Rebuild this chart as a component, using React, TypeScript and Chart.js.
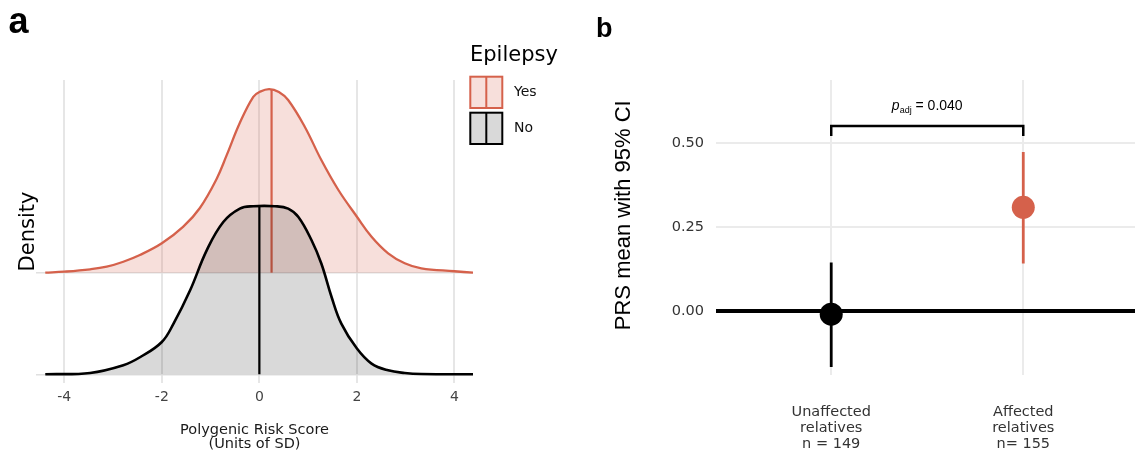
import React, { useEffect, useRef } from 'react';
import { Chart, registerables } from 'chart.js';

Chart.register(...registerables);

// ---------- Panel a: ridgeline densities ----------
const groups = ['Yes', 'No'];
const legendTitle = 'Epilepsy';
const groupColors = ['#D5614B', '#000000'];
const groupFills = ['rgba(213,97,75,0.2)', 'rgba(0,0,0,0.15)'];
const groupFillsOpaque = ['#F7DFDB', '#D9D9D9'];

const yesX = [-4.39, -4.0, -3.47, -3.13, -2.79, -2.45, -2.0, -1.56, -1.22, -0.875, -0.67, -0.4, -0.125, 0.01, 0.2, 0.4, 0.59, 0.93, 1.27, 1.62, 2.0, 2.3, 2.64, 2.98, 3.32, 4.0, 4.38];
const yesDensity = [0, 0.01, 0.033, 0.059, 0.108, 0.174, 0.289, 0.453, 0.637, 0.925, 1.157, 1.476, 1.732, 1.781, 1.808, 1.780, 1.70, 1.437, 1.109, 0.814, 0.551, 0.354, 0.191, 0.093, 0.043, 0.014, 0];
const noX = [-4.39, -3.47, -2.79, -2.44, -2.0, -1.76, -1.42, -1.08, -0.74, -0.4, -0.125, 0.32, 0.59, 0.8, 1.07, 1.27, 1.48, 1.68, 2.0, 2.3, 2.64, 2.98, 3.32, 4.38];
const noDensity = [0, 0.013, 0.089, 0.170, 0.318, 0.499, 0.827, 1.220, 1.499, 1.631, 1.654, 1.654, 1.631, 1.548, 1.319, 1.090, 0.761, 0.499, 0.253, 0.105, 0.039, 0.013, 0.003, 0];
const groupMedians = [0.25, 0];
const prsTicks = [-4, -2, 0, 2, 4];
const prsAxisTitle = ['Polygenic Risk Score', '(Units of SD)'];

// ---------- Panel b: PRS mean with 95% CI ----------
const relativeGroups = [
  ['Unaffected', 'relatives', 'n = 149'],
  ['Affected', 'relatives', 'n= 155'],
];
const prsMean = [-0.009, 0.309];
const ciLower = [-0.166, 0.142];
const ciUpper = [0.145, 0.474];
const relativeColors = ['#000000', '#D5614B'];
const meanTicks = [0, 0.25, 0.5];
const bracketY = 0.551;
const bracketTipY = 0.521;
const pAdjValue = '0.040';

const interp = (xs: number[], ys: number[], x: number) => {
  for (let i = 0; i < xs.length - 1; i++) {
    if (x >= xs[i] && x <= xs[i + 1]) {
      const t = (x - xs[i]) / (xs[i + 1] - xs[i]);
      return ys[i] + t * (ys[i + 1] - ys[i]);
    }
  }
  return 0;
};

Chart.defaults.font.family = '"DejaVu Sans"';

export default function App() {
  const refA = useRef<HTMLCanvasElement | null>(null);
  const refB = useRef<HTMLCanvasElement | null>(null);

  useEffect(() => {
    // ---- Chart A ----
    const offsets = [1, 0];
    const xsAll = [yesX, noX];
    const dsAll = [yesDensity, noDensity];
    const datasetsA: any[] = [];
    [1, 0].forEach((g, k) => {
      const base = offsets[g];
      const medTop = base + interp(xsAll[g], dsAll[g], groupMedians[g]);
      datasetsA.push({
        label: groups[g] + ' median',
        data: [{ x: groupMedians[g], y: base }, { x: groupMedians[g], y: medTop }],
        borderColor: groupColors[g],
        borderWidth: 2.2,
        pointRadius: 0,
        fill: false,
        tension: 0,
        order: k * 2,
      });
      datasetsA.push({
        label: groups[g],
        data: xsAll[g].map((x, i) => ({ x, y: base + dsAll[g][i] })),
        borderColor: groupColors[g],
        backgroundColor: groupFills[g],
        borderWidth: g === 1 ? 2.6 : 2.3,
        pointRadius: 0,
        tension: 0.4,
        fill: { value: base },
        order: k * 2 + 1,
      });
    });

    const legendPlugin = {
      id: 'ridgeLegend',
      afterDraw(chart: any) {
        const ctx = chart.ctx;
        ctx.save();
        ctx.fillStyle = '#000';
        ctx.textAlign = 'left';
        ctx.textBaseline = 'alphabetic';
        ctx.font = 'bold 36px "Liberation Sans"';
        ctx.fillText('a', 8.5, 33);
        ctx.font = '21px "DejaVu Sans"';
        ctx.fillText(legendTitle, 470, 61);
        groups.forEach((g, i) => {
          const top = 76.7 + i * 36;
          ctx.fillStyle = groupFillsOpaque[i];
          ctx.fillRect(470.3, top, 32, 31.3);
          ctx.strokeStyle = groupColors[i];
          ctx.lineWidth = 2;
          ctx.strokeRect(470.3, top, 32, 31.3);
          ctx.beginPath();
          ctx.moveTo(486.3, top);
          ctx.lineTo(486.3, top + 31.3);
          ctx.stroke();
          ctx.fillStyle = '#111';
          ctx.font = '14px "DejaVu Sans"';
          ctx.textBaseline = 'middle';
          ctx.fillText(g, 514, top + 16);
          ctx.textBaseline = 'alphabetic';
        });
        ctx.restore();
      },
    };

    const chartA = new Chart(refA.current as HTMLCanvasElement, {
      type: 'line',
      data: { datasets: datasetsA },
      plugins: [legendPlugin],
      options: {
        animation: false,
        responsive: false,
        devicePixelRatio: 1,
        events: [],
        layout: { padding: { left: 0, top: 80, right: 107, bottom: 0 } },
        plugins: { legend: { display: false }, tooltip: { enabled: false } },
        scales: {
          x: {
            type: 'linear',
            min: -4.58,
            max: 4.38,
            afterBuildTicks: (s: any) => { s.ticks = prsTicks.map((v) => ({ value: v })); },
            afterFit: (s: any) => { s.height = 77; },
            grid: { color: '#E6E6E6', lineWidth: 2, drawTicks: false },
            border: { display: false },
            ticks: { padding: 5.5, color: '#444', font: { size: 14 }, callback: (v: any) => String(v) },
            title: {
              display: true,
              text: prsAxisTitle,
              color: '#1a1a1a',
              font: { size: 14.5, lineHeight: 1.0 },
              padding: { top: 0, bottom: 8.25 },
            },
          },
          y: {
            type: 'linear',
            min: -0.086,
            max: 2.897,
            afterBuildTicks: (s: any) => { s.ticks = offsets.map((v) => ({ value: v })); },
            afterFit: (s: any) => { s.width = 36; },
            grid: { color: '#E0E0E0', lineWidth: 1.5, drawTicks: false },
            border: { display: false },
            ticks: { display: false },
            title: {
              display: true,
              text: 'Density',
              color: '#000',
              font: { size: 21 },
              padding: { top: 15.5, bottom: 0 },
            },
          },
        },
      } as any,
    });

    // ---- Chart B ----
    const datasetsB: any[] = [];
    datasetsB.push({
      label: 'means',
      data: prsMean.map((m, i) => ({ x: i + 1, y: m })),
      showLine: false,
      pointRadius: 11.5,
      pointBorderWidth: 0,
      pointBackgroundColor: relativeColors,
      pointBorderColor: relativeColors,
      order: 0,
    });
    prsMean.forEach((m, i) => {
      datasetsB.push({
        label: 'ci' + i,
        data: [{ x: i + 1, y: ciLower[i] }, { x: i + 1, y: ciUpper[i] }],
        borderColor: relativeColors[i],
        borderWidth: 2.8,
        pointRadius: 0,
        fill: false,
        order: 1,
      });
    });
    datasetsB.push({
      label: 'bracket',
      data: [
        { x: 1, y: bracketTipY },
        { x: 1, y: bracketY },
        { x: 2, y: bracketY },
        { x: 2, y: bracketTipY },
      ],
      borderColor: '#000',
      borderWidth: 2.5,
      pointRadius: 0,
      fill: false,
      order: 2,
    });

    const pPlugin = {
      id: 'pAdj',
      afterDraw(chart: any) {
        const { ctx, scales } = chart;
        const cx = scales.x.getPixelForValue(1.5);
        const base = scales.y.getPixelForValue(bracketY) - 16.5;
        ctx.save();
        ctx.fillStyle = '#000';
        ctx.textAlign = 'left';
        ctx.textBaseline = 'alphabetic';
        const f1 = 'italic 14px "Liberation Sans"';
        const f2 = '9px "Liberation Sans"';
        const f3 = '14px "Liberation Sans"';
        const rest = ' = ' + pAdjValue;
        ctx.font = f1; const w1 = ctx.measureText('p').width;
        ctx.font = f2; const w2 = ctx.measureText('adj').width;
        ctx.font = f3; const w3 = ctx.measureText(rest).width;
        let x0 = cx - (w1 + w2 + w3) / 2;
        ctx.font = f1; ctx.fillText('p', x0, base); x0 += w1;
        ctx.font = f2; ctx.fillText('adj', x0, base + 3.5); x0 += w2;
        ctx.font = f3; ctx.fillText(rest, x0, base);
        ctx.font = 'bold 27px "Liberation Sans"';
        ctx.fillText('b', 16, 36.7);
        ctx.restore();
      },
    };

    const chartB = new Chart(refB.current as HTMLCanvasElement, {
      type: 'line',
      data: { datasets: datasetsB },
      plugins: [pPlugin],
      options: {
        animation: false,
        responsive: false,
        devicePixelRatio: 1,
        events: [],
        layout: { padding: { left: 0, top: 80, right: 5, bottom: 0 } },
        plugins: { legend: { display: false }, tooltip: { enabled: false } },
        scales: {
          x: {
            type: 'linear',
            min: 0.4,
            max: 2.6,
            afterBuildTicks: (s: any) => { s.ticks = relativeGroups.map((_, i) => ({ value: i + 1 })); },
            afterFit: (s: any) => { s.height = 85; },
            grid: { color: '#EBEBEB', lineWidth: 2, drawTicks: false },
            border: { display: false },
            ticks: {
              padding: 29,
              color: '#333',
              font: { size: 14.5, lineHeight: 1.1 },
              callback: (v: any) => relativeGroups[Math.round(v) - 1] || '',
            },
          },
          y: {
            type: 'linear',
            min: -0.19,
            max: 0.688,
            afterBuildTicks: (s: any) => { s.ticks = meanTicks.map((v) => ({ value: v })); },
            afterFit: (s: any) => { s.width = 136; },
            grid: {
              color: (c: any) => (c.tick && c.tick.value === 0 ? '#000' : '#EBEBEB'),
              lineWidth: (c: any) => (c.tick && c.tick.value === 0 ? 4 : 2),
              drawTicks: false,
            },
            border: { display: false },
            ticks: { padding: 12, color: '#333', font: { size: 14.5 }, callback: (v: any) => Number(v).toFixed(2) },
            title: {
              display: true,
              text: '    PRS mean with 95% CI',
              color: '#000',
              font: { size: 22, family: '"Liberation Sans"' },
              padding: { top: 30.8, bottom: 0 },
            },
          },
        },
      } as any,
    });

    return () => {
      chartA.destroy();
      chartB.destroy();
    };
  }, []);

  return (
    <div style={{ position: 'fixed', left: 0, top: 0, width: 1135, height: 450, overflow: 'hidden', background: '#fff' }}>
      <canvas ref={refA} width={580} height={460} style={{ position: 'absolute', left: 0, top: 0, width: 580, height: 460 }} />
      <canvas ref={refB} width={570} height={460} style={{ position: 'absolute', left: 580, top: 0, width: 570, height: 460 }} />
    </div>
  );
}
